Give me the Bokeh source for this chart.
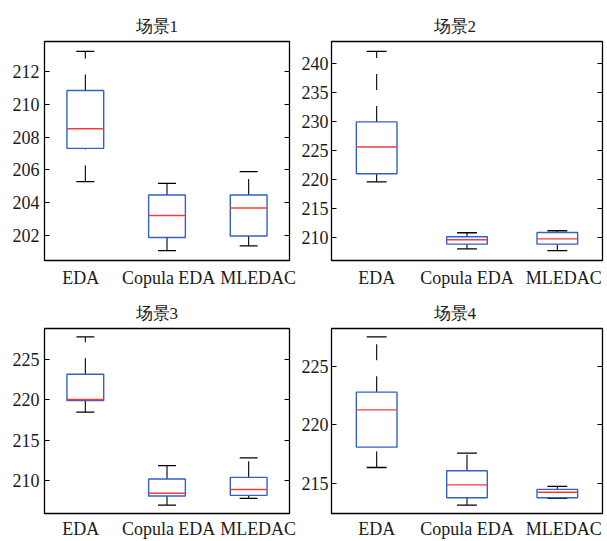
from bokeh.plotting import figure
from bokeh.models import Range1d, FixedTicker, LinearAxis, CustomJSTickFormatter
from bokeh.layouts import gridplot
from bokeh.embed import file_html
from bokeh.resources import INLINE

# ---------------- data ----------------
categories = ["EDA", "Copula EDA", "MLEDAC"]
titles = ["场景1", "场景2", "场景3", "场景4"]

s1_min = [205.29, 201.09, 201.38]
s1_q1 = [207.31, 201.88, 201.98]
s1_med = [208.50, 203.22, 203.68]
s1_q3 = [210.83, 204.47, 204.47]
s1_max = [213.21, 205.18, 205.89]

s2_min = [219.6, 208.1, 207.8]
s2_q1 = [221.0, 208.9, 208.9]
s2_med = [225.6, 209.66, 209.8]
s2_q3 = [229.9, 210.17, 210.9]
s2_max = [242.0, 210.86, 211.2]

s3_min = [218.47, 206.96, 207.8]
s3_q1 = [219.9, 208.09, 208.17]
s3_med = [220.05, 208.42, 208.9]
s3_q3 = [223.17, 210.2, 210.4]
s3_max = [227.8, 211.86, 212.8]

s4_min = [216.37, 213.17, 213.75]
s4_q1 = [218.1, 213.8, 213.8]
s4_med = [221.27, 214.89, 214.26]
s4_q3 = [222.78, 216.09, 214.51]
s4_max = [227.48, 217.6, 214.76]

ticks1 = [202, 204, 206, 208, 210, 212]
ticks2 = [210, 215, 220, 225, 230, 235, 240]
ticks3 = [210, 215, 220, 225]
ticks4 = [215, 220, 225]

# ---------------- style ----------------
FONT = "Liberation Serif"
BOX_COLOR = "#3461c6"
MED_COLOR = "#f03c3c"
BOX_HALF = 0.225
CAP_HALF = 0.11


def make_panel(title, mn, q1, med, q3, mx, yticks, width, height,
               b_left, b_right, b_top, b_bottom, label_shift, x_standoff,
               title_offset, y_standoff):
    lo, hi = min(mn), max(mx)
    pad = 0.05 * (hi - lo)
    p = figure(width=width, height=height, output_backend="svg",
               toolbar_location=None, title=title,
               x_range=Range1d(0.5, 3.5), y_range=Range1d(lo - pad, hi + pad),
               min_border_left=b_left, min_border_right=b_right,
               min_border_top=b_top, min_border_bottom=b_bottom)
    p.background_fill_color = "white"
    p.border_fill_color = "white"
    p.outline_line_color = "black"
    p.outline_line_width = 1.3
    p.xgrid.visible = False
    p.ygrid.visible = False

    p.title.text_font = FONT
    p.title.text_font_size = "17px"
    p.title.text_font_style = "normal"
    p.title.text_color = "#1a1a1a"
    p.title.align = "left"
    p.title.offset = title_offset
    p.title.standoff = 12

    xs = [i + 1 for i in range(len(categories))]

    # whiskers (dashed, drawn from lower to upper end)
    p.segment(x0=xs, y0=q3, x1=xs, y1=mx, line_color="black",
              line_width=1.1, line_dash="16 16")
    p.segment(x0=xs, y0=mn, x1=xs, y1=q1, line_color="black",
              line_width=1.1, line_dash="16 16")
    # caps
    p.segment(x0=[x - CAP_HALF for x in xs], y0=mx,
              x1=[x + CAP_HALF for x in xs], y1=mx,
              line_color="black", line_width=1.3)
    p.segment(x0=[x - CAP_HALF for x in xs], y0=mn,
              x1=[x + CAP_HALF for x in xs], y1=mn,
              line_color="black", line_width=1.3)
    # boxes
    p.quad(left=[x - BOX_HALF for x in xs], right=[x + BOX_HALF for x in xs],
           bottom=q1, top=q3, fill_color="white", fill_alpha=0.0,
           line_color=BOX_COLOR, line_width=1.4)
    # medians
    p.segment(x0=[x - BOX_HALF for x in xs], y0=med,
              x1=[x + BOX_HALF for x in xs], y1=med,
              line_color=MED_COLOR, line_width=1.4)

    # x axis: category names
    tick_pos = [x + s for x, s in zip(xs, label_shift)]
    xa = p.xaxis[0]
    xa.ticker = FixedTicker(ticks=tick_pos)
    xa.major_label_overrides = {t: c for t, c in zip(tick_pos, categories)}
    xa.major_tick_in = 0
    xa.major_tick_out = 0
    xa.minor_tick_in = 0
    xa.minor_tick_out = 0
    xa.axis_line_color = None
    xa.major_label_standoff = x_standoff
    xa.major_label_text_font = FONT
    xa.major_label_text_font_size = "18px"
    xa.major_label_text_color = "#1a1a1a"

    # y axis left
    ya = p.yaxis[0]
    ya.ticker = FixedTicker(ticks=yticks)
    ya.major_tick_in = 5
    ya.major_tick_out = 0
    ya.minor_tick_in = 0
    ya.minor_tick_out = 0
    ya.axis_line_color = None
    ya.major_tick_line_color = "black"
    ya.major_label_standoff = y_standoff
    ya.major_label_text_font = FONT
    ya.major_label_text_font_size = "18px"
    ya.major_label_text_color = "#1a1a1a"

    # y axis right (ticks only)
    ra = LinearAxis(ticker=FixedTicker(ticks=yticks),
                    formatter=CustomJSTickFormatter(code="return ''"))
    ra.major_tick_in = 5
    ra.major_tick_out = 0
    ra.minor_tick_in = 0
    ra.minor_tick_out = 0
    ra.axis_line_color = None
    ra.major_label_standoff = 0
    ra.major_label_text_font_size = "1px"
    p.add_layout(ra, "right")
    return p


left_shift = [-0.055, 0.02, 0.116]
right_shift = [0.0, 0.0, 0.07]

p1 = make_panel(titles[0], s1_min, s1_q1, s1_med, s1_q3, s1_max, ticks1,
                298, 290, 44, 9, 41, 29, left_shift, 7, 91, 5)
p2 = make_panel(titles[1], s2_min, s2_q1, s2_med, s2_q3, s2_max, ticks2,
                308, 290, 30, 4, 41, 29, right_shift, 7, 102, 3)
p3 = make_panel(titles[2], s3_min, s3_q1, s3_med, s3_q3, s3_max, ticks3,
                298, 251, 44, 9, 38, 25, left_shift, 5, 91, 5)
p4 = make_panel(titles[3], s4_min, s4_q1, s4_med, s4_q3, s4_max, ticks4,
                308, 251, 30, 4, 38, 25, right_shift, 5, 102, 3)

grid = gridplot([[p1, p2], [p3, p4]], toolbar_location=None)

open("out.html", "w").write(file_html(grid, INLINE))
